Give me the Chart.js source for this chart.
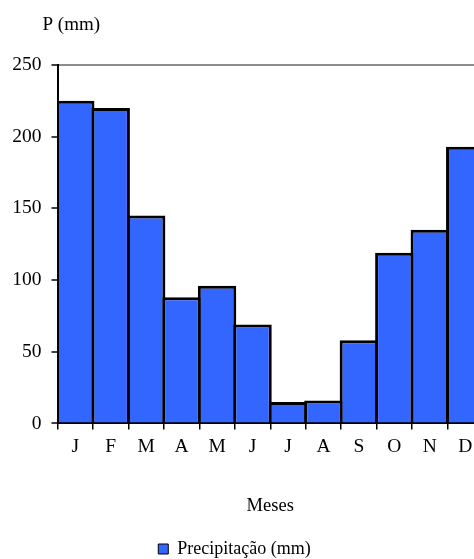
<!DOCTYPE html>
<html>
<head>
<meta charset="utf-8">
<script src="https://cdn.jsdelivr.net/npm/chart.js@4/dist/chart.umd.min.js"></script>
<style>
  html, body { margin: 0; padding: 0; overflow: hidden; background: #fff; }
  #wrap { width: 474px; height: 559px; overflow: hidden; }
</style>
</head>
<body>
<div id="wrap"><canvas id="grafico" width="483" height="559"></canvas></div>
<script>
// Dados
const meses = ["J", "F", "M", "A", "M", "J", "J", "A", "S", "O", "N", "D"];
const precipitacao = [225, 220, 145, 88, 96, 69, 15, 16, 58, 119, 135, 193];
const yTicks = [0, 50, 100, 150, 200, 250];

const fonte = { family: "'Liberation Serif', 'Times New Roman', serif", size: 19.5 };
const fonteTexto = { family: "'Liberation Serif', 'Times New Roman', serif", size: 18 };

// título do eixo Y (horizontal, acima do eixo) + ajuste da legenda
const extras = {
    id: "extras",
    beforeDraw(chart) {
        const lg = chart.legend;
        if (lg && !lg._movido) {
            lg.left -= 7;
            lg.right -= 7;
            lg.top += 9;
            lg.bottom += 9;
            lg._movido = true;
        }
    },
    afterDraw(chart) {
        const ctx = chart.ctx;
        ctx.save();
        ctx.fillStyle = "#000";
        ctx.font = "19px 'Liberation Serif', serif";
        ctx.textAlign = "left";
        ctx.textBaseline = "middle";
        ctx.fillText("P (mm)", chart.chartArea.left - 15, 25);
        ctx.restore();
    }
};

const ctx = document.getElementById("grafico").getContext("2d");

new Chart(ctx, {
    type: "bar",
    data: {
        labels: meses,
        datasets: [{
            label: "Precipitação (mm)",
            data: precipitacao,
            backgroundColor: "#3366ff",
            borderColor: "#000",
            borderWidth: 3,
            categoryPercentage: 1,
            barPercentage: 1.085
        }]
    },
    options: {
        responsive: false,
        animation: false,
        layout: { padding: { top: 65, left: 0, right: 0, bottom: 0 } },
        plugins: {
            legend: {
                position: "bottom",
                labels: {
                    font: fonteTexto,
                    color: "#000",
                    boxWidth: 10,
                    boxHeight: 10,
                    padding: 2,
                    generateLabels(chart) {
                        return Chart.defaults.plugins.legend.labels.generateLabels(chart).map(l => {
                            l.lineWidth = 1;
                            return l;
                        });
                    }
                }
            },
            tooltip: { enabled: false }
        },
        scales: {
            x: {
                z: 1,
                offset: true,
                grid: {
                    offset: true,
                    drawOnChartArea: false,
                    color: "#000",
                    lineWidth: 1.5,
                    tickLength: 6
                },
                border: { color: "#000", width: 2 },
                ticks: { font: fonte, color: "#000", padding: 6, maxRotation: 0 },
                title: {
                    display: true,
                    text: "Meses",
                    font: { family: fonteTexto.family, size: 18.5 },
                    color: "#000",
                    padding: { top: 30, bottom: 12 }
                }
            },
            y: {
                z: 1,
                min: 0,
                max: 250,
                afterBuildTicks(scale) {
                    scale.ticks = yTicks.map(v => ({ value: v }));
                },
                afterFit(scale) {
                    scale.width = 57.5;
                },
                grid: {
                    color: c => (c.tick && c.tick.value === 250) ? "#8c8c8c" : "rgba(0,0,0,0)",
                    lineWidth: 2,
                    tickColor: "#000",
                    tickWidth: 1.5,
                    tickLength: 6
                },
                border: { color: "#000", width: 2 },
                ticks: { font: fonte, color: "#000", padding: 10 }
            }
        }
    },
    plugins: [extras]
});
</script>
</body>
</html>
